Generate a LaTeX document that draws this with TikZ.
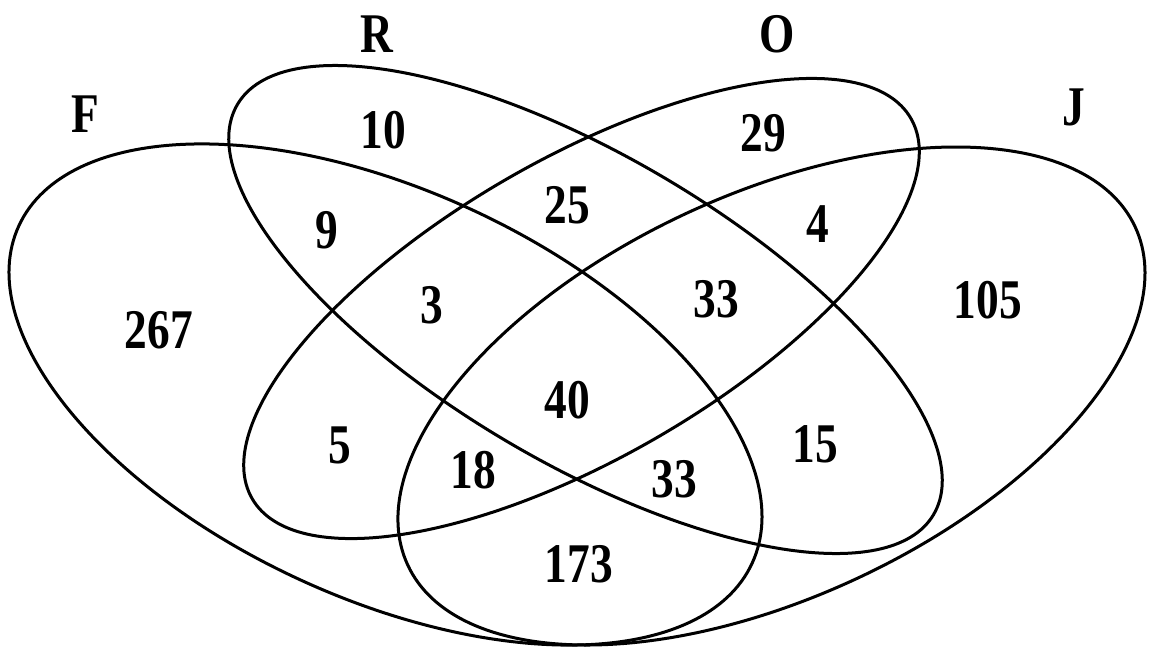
\documentclass[tikz,border=0pt]{standalone}
\usepackage{fontspec}
\setmainfont{Liberation Serif}
\usepackage{graphicx}
\newcommand{\narrowtxt}[1]{\scalebox{0.81}[1]{#1}}
\begin{document}
\begin{tikzpicture}[x=0.5pt,y=-0.5pt,
  venn/.style={line width=1.5pt, draw=black},
  lbl/.style={font=\fontsize{28}{28}\selectfont\bfseries, inner sep=0pt, anchor=base},
]
\useasboundingbox (0,0) rectangle (1152,649);
% centres of the four sets
\coordinate (Fc) at (385.5,394.5);
\coordinate (Rc) at (585.5,309.5);
\coordinate (Oc) at (581.5,308.5);
\coordinate (Jc) at (771.5,396);
% ellipses
\draw[venn, rotate around={-24.7:(Fc)}] (Fc) ellipse [x radius=403.6, y radius=204];
\draw[venn, rotate around={-30.5:(Rc)}] (Rc) ellipse [x radius=404, y radius=153.5];
\draw[venn, rotate around={30.0:(Oc)}] (Oc) ellipse [x radius=380.3, y radius=149.5];
\draw[venn, rotate around={24.95:(Jc)}] (Jc) ellipse [x radius=401.1, y radius=201.5];
% set names
\node[lbl] (tF) at (85.5,132) {\narrowtxt{F}};
\node[lbl] (tR) at (376.5,52) {\narrowtxt{R}};
\node[lbl] (tO) at (777,52) {\narrowtxt{O}};
\node[lbl] (tJ) at (1074,125) {\narrowtxt{J}};
% region counts
\node[lbl] (n10) at (383,148) {\narrowtxt{10}};
\node[lbl] (n29) at (763.5,151) {\narrowtxt{29}};
\node[lbl] (n9) at (326.5,248) {\narrowtxt{9}};
\node[lbl] (n25) at (567,223) {\narrowtxt{25}};
\node[lbl] (n4) at (818,242) {\narrowtxt{4}};
\node[lbl] (n267) at (159,348) {\narrowtxt{267}};
\node[lbl] (n3) at (432,323) {\narrowtxt{3}};
\node[lbl] (n33a) at (716.5,317) {\narrowtxt{33}};
\node[lbl] (n105) at (988,318) {\narrowtxt{105}};
\node[lbl] (n40) at (567,418) {\narrowtxt{40}};
\node[lbl] (n5) at (340,463) {\narrowtxt{5}};
\node[lbl] (n18) at (473,488) {\narrowtxt{18}};
\node[lbl] (n33b) at (674,497) {\narrowtxt{33}};
\node[lbl] (n15) at (815,462) {\narrowtxt{15}};
\node[lbl] (n173) at (579,582) {\narrowtxt{173}};
\end{tikzpicture}
\end{document}
